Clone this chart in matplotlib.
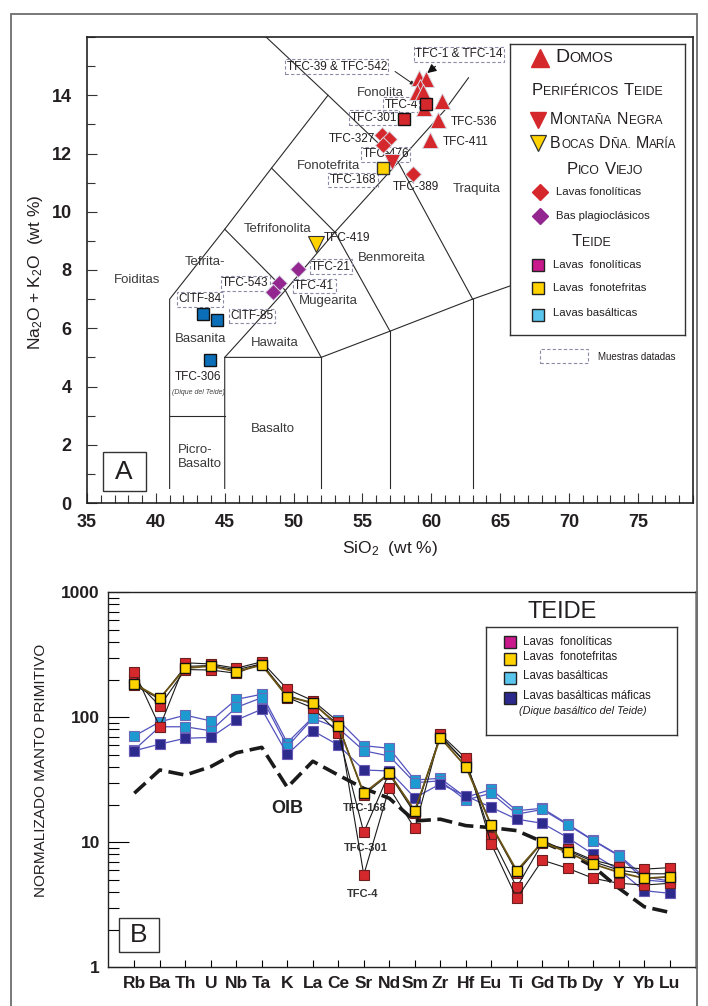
import numpy as np
import matplotlib.pyplot as plt
from matplotlib.patches import Rectangle
from matplotlib.ticker import MultipleLocator, LogLocator, NullFormatter
from matplotlib.offsetbox import TextArea, HPacker, AnnotationBbox

plt.rcParams['font.family'] = ['Liberation Sans', 'DejaVu Sans']
plt.rcParams['mathtext.default'] = 'regular'

INK = '#231f20'
RED = '#d5282d'
YEL = '#ffd200'
PUR = '#93278f'
BLU = '#0a6fb8'
MAG = '#c8188c'
LBL = '#5ac6ee'
CYN = '#1d9bd0'
NAV = '#2c2a8c'

# ---------------- Panel A: TAS ----------------
tas_lines = [
    [(41, 0.5), (41, 7), (45, 9.4), (48.4, 11.5), (52.5, 14)],
    [(48, 16), (52.5, 14), (57.6, 11.7), (63, 7)],
    [(45, 0.5), (45, 5), (49.4, 7.3), (53, 9.3), (57.6, 11.7), (61, 13.5), (62.7, 14.6)],
    [(41, 3), (45, 3)],
    [(45, 5), (52, 5), (57, 5.9), (63, 7), (69, 8)],
    [(52, 0.5), (52, 5)],
    [(57, 0.5), (57, 5.9)],
    [(63, 0.5), (63, 7)],
    [(45, 9.4), (49.4, 7.3), (52, 5)],
    [(48.4, 11.5), (53, 9.3), (57, 5.9)],
]
fields = ['Foiditas', 'Tefrita-', 'Basanita', 'Picro-\nBasalto', 'Basalto', 'Hawaita',
          'Mugearita', 'Benmoreita', 'Tefrifonolita', 'Fonotefrita', 'Fonolita', 'Traquita']
field_xy = [(38.6, 7.66), (43.55, 8.27), (43.25, 5.62), (41.6, 1.58), (48.5, 2.53), (48.65, 5.48),
            (52.5, 6.95), (57.1, 8.42), (48.8, 9.41), (52.55, 11.57), (56.3, 14.08), (63.3, 10.78)]

domos_si = [59.1, 59.6, 59.2, 58.95, 59.4, 59.5, 60.75, 60.45, 59.9]
domos_alk = [14.6, 14.55, 14.3, 14.1, 14.1, 13.55, 13.8, 13.15, 12.45]
mneg_si, mneg_alk = [57.15], [11.7]
bocas_si, bocas_alk = [51.6], [8.9]
pvfon_si = [56.45, 56.95, 56.5, 58.65]
pvfon_alk = [12.65, 12.5, 12.3, 11.3]
pvbas_si = [50.35, 48.95, 48.5]
pvbas_alk = [8.05, 7.55, 7.25]
tdfon_si, tdfon_alk = [59.65, 58.0], [13.7, 13.2]
tdfte_si, tdfte_alk = [56.5], [11.5]
tdbas_si = [43.4, 44.45, 43.9]
tdbas_alk = [6.5, 6.3, 4.9]

labels = ['TFC-39 & TFC-542', 'TFC-1 & TFC-14', 'TFC-4', 'TFC-301', 'TFC-327', 'TFC-476',
          'TFC-168', 'TFC-389', 'TFC-536', 'TFC-411', 'TFC-419', 'TFC-21', 'TFC-543',
          'TFC-41', 'CITF-84', 'CITF-85', 'TFC-306']
label_xy = [(53.13, 14.98), (61.99, 15.41), (57.8, 13.67), (55.84, 13.23), (54.25, 12.5),
            (56.69, 11.97), (54.32, 11.09), (58.86, 10.84), (63.11, 13.07), (62.47, 12.41),
            (53.91, 9.09), (52.71, 8.11), (46.49, 7.54), (51.5, 7.45), (43.23, 6.99),
            (46.98, 6.42), (43.07, 4.34)]
label_dated = [1, 1, 1, 1, 0, 1, 1, 0, 0, 0, 0, 1, 1, 1, 1, 1, 0]

# ---------------- Panel B: spider ----------------
elements = ['Rb', 'Ba', 'Th', 'U', 'Nb', 'Ta', 'K', 'La', 'Ce', 'Sr', 'Nd', 'Sm', 'Zr', 'Hf',
            'Eu', 'Ti', 'Gd', 'Tb', 'Dy', 'Y', 'Yb', 'Lu']
oib = [24.7, 37.9, 34.5, 40.3, 52, 57.5, 27.5, 44.5, 34.5, 27, 22.5, 14.8, 15.3, 13.6, 13.1,
       12.4, 10.1, 8.2, 6.4, 4.3, 3.05, 2.75]
fon_tfc4 = [231, 84, 273, 267, 247, 278, 168, 136, 92, 5.5, 27.3, 12.9, 73.5, 47, 9.7, 3.56,
            7.2, 6.2, 5.15, 4.7, 4.55, 4.7]
fon_tfc301 = [201, 123, 241, 239, 225, 270, 144, 119, 75, 12.0, 36, 17.5, 70, 44, 11.1, 4.36,
              9.8, 8.8, 7.2, 6.4, 6.1, 6.27]
fon_3 = [180, 140, 255, 260, 240, 268, 150, 128, 88, 24, 35, 17, 72, 43, 13.5, 5.7, 10, 8.6,
         7.0, 6.0, 5.6, 5.6]
fte_tfc168 = [185, 142, 247, 257, 232, 262, 146, 131, 85, 24.7, 35.6, 17.9, 68.7, 40.3, 13.7,
              5.93, 10.05, 8.3, 6.7, 5.75, 5.15, 5.3]
bas_1 = [70.8, 92, 104, 93.5, 139, 153, 62.6, 100, 95, 59.3, 56.5, 31.5, 32.5, 22.9, 26.5, 17.9,
         18.7, 14, 10.4, 7.9, 5.3, 4.9]
bas_2 = [55, 84, 84, 78, 120, 143.6, 58.2, 98, 82, 54, 49, 30, 31, 21.8, 24.7, 16.8, 18.3, 13.8,
         10.3, 7.8, 5.0, 4.8]
maf_tfc306 = [54, 61, 68, 69, 95, 116, 50.6, 78, 60, 37.9, 37.2, 22.7, 29.3, 23.5, 19.05, 15.3,
              14.2, 10.9, 8.0, 6.0, 4.1, 3.91]

W, H = 708, 1006
fig = plt.figure(figsize=(W / 100, H / 100), dpi=100)


def fax(x0, y0, x1, y1):
    return fig.add_axes([x0 / W, 1 - y1 / H, (x1 - x0) / W, (y1 - y0) / H])


def px(x, y):
    return (x / W, 1 - y / H)


def small_caps(ax, x, y, txt, size, align=(0, 0.5)):
    words = []
    for w in txt.split():
        a = TextArea(w[0].upper(), textprops=dict(fontsize=size, color=INK))
        b = TextArea(w[1:].upper(), textprops=dict(fontsize=size * 0.74, color=INK))
        words.append(HPacker(children=[a, b], align='baseline', pad=0, sep=0.3))
    box = HPacker(children=words, align='baseline', pad=0, sep=size * 0.3)
    ab = AnnotationBbox(box, (x, y), xycoords='data', box_alignment=align,
                        frameon=False, pad=0, annotation_clip=False)
    ax.add_artist(ab)


# outer frame
fig.add_artist(Rectangle(px(11, 1010), 686 / W, 996 / H, transform=fig.transFigure,
                         fill=False, ec='#6d6d6d', lw=1.3))

axA = fax(87, 37, 693, 503)
axA.set_xlim(35, 79)
axA.set_ylim(0, 16)
for seg in tas_lines:
    xs, ys = zip(*seg)
    axA.plot(xs, ys, color='#2a2a2a', lw=0.8, zorder=1)
for name, (fx, fy) in zip(fields, field_xy):
    ha = 'left' if name.startswith('Picro') else 'center'
    axA.text(fx, fy, name, fontsize=9.5, color='#3a3a3a', ha=ha, va='center',
             linespacing=1.25)

dash_box = dict(boxstyle='square,pad=0.12', fc='none', ec='#8c8ca6', lw=0.8,
                ls=(0, (3, 2)))
for name, (lx, ly), d in zip(labels, label_xy, label_dated):
    axA.text(lx, ly, name, fontsize=8.5, color=INK, ha='center', va='center', zorder=2,
             bbox=dash_box if d else None)
axA.text(43.07, 3.78, '(Dique del Teide)', fontsize=5, style='italic', color='#444',
         ha='center', va='center')

axA.annotate('', xy=(58.95, 14.3), xytext=(57.2, 14.87),
             arrowprops=dict(arrowstyle='-|>', lw=0.7, color='#222', mutation_scale=6))
axA.annotate('', xy=(59.55, 14.7), xytext=(60.45, 15.05),
             arrowprops=dict(arrowstyle='-|>', lw=0.9, color='#111', mutation_scale=13))

axA.plot(domos_si, domos_alk, '^', ms=12, mfc=RED, mec='#d9d9e3', mew=0.7, ls='none', zorder=4)
axA.plot(mneg_si, mneg_alk, 'v', ms=12, mfc=RED, mec='#d9d9e3', mew=0.7, ls='none', zorder=4)
axA.plot(bocas_si, bocas_alk, 'v', ms=12, mfc=YEL, mec='#333', mew=0.8, ls='none', zorder=4)
axA.plot(pvfon_si, pvfon_alk, 'D', ms=8.5, mfc=RED, mec='#d9d9e3', mew=0.7, ls='none', zorder=4)
axA.plot(pvbas_si, pvbas_alk, 'D', ms=8.5, mfc=PUR, mec='#d9d9e3', mew=0.7, ls='none', zorder=4)
axA.plot(tdfon_si, tdfon_alk, 's', ms=9, mfc=RED, mec='#111', mew=1.0, ls='none', zorder=5)
axA.plot(tdfte_si, tdfte_alk, 's', ms=9, mfc=YEL, mec='#333', mew=1.0, ls='none', zorder=5)
axA.plot(tdbas_si, tdbas_alk, 's', ms=9, mfc=BLU, mec='#111', mew=1.0, ls='none', zorder=5)

axA.set_xticks(range(35, 80, 5))
axA.set_yticks(range(0, 15, 2))
axA.xaxis.set_minor_locator(MultipleLocator(1))
axA.yaxis.set_minor_locator(MultipleLocator(1))
axA.tick_params(which='both', direction='in', width=0.8, color='#333')
axA.tick_params(which='major', length=7, labelsize=13, labelcolor=INK)
axA.tick_params(which='minor', length=6)
axA.tick_params(axis='x', pad=8)
axA.tick_params(axis='y', pad=11)
for lab in axA.get_xticklabels() + axA.get_yticklabels():
    lab.set_fontweight('bold')
for s in axA.spines.values():
    s.set_linewidth(1.2)
    s.set_color('#222')
fig.text(*px(36, 272), 'Na$_2$O + K$_2$O  (wt %)', rotation=90, fontsize=12.5, color=INK,
         ha='center', va='center')
fig.text(*px(390, 548), 'SiO$_2$  (wt %)', fontsize=12.5, color=INK, ha='center', va='center')

fig.add_artist(Rectangle(px(102.7, 490.7), 43 / W, 38.4 / H, transform=fig.transFigure,
                         fill=False, ec='#333', lw=1.0))
fig.text(*px(124.2, 472), 'A', fontsize=19, color=INK, ha='center', va='center')

# legend A
lgA = fax(510, 44, 685, 335)
lgA.set_xlim(0, 175)
lgA.set_ylim(291, 0)
lgA.set_xticks([])
lgA.set_yticks([])
for s in lgA.spines.values():
    s.set_linewidth(1.0)
    s.set_color('#333')
lgA.plot(30, 14, '^', ms=13, mfc=RED, mec=RED)
small_caps(lgA, 45, 14, 'Domos', 14)
small_caps(lgA, 87, 46.7, 'Periféricos Teide', 12, align=(0.5, 0.5))
lgA.plot(28.3, 76, 'v', ms=12, mfc=RED, mec=RED)
small_caps(lgA, 40, 76, 'Montaña Negra', 11.5)
lgA.plot(28.3, 99.3, 'v', ms=12, mfc=YEL, mec='#333', mew=0.9)
small_caps(lgA, 40, 99.3, 'Bocas Dña. María', 11.5)
small_caps(lgA, 95, 126, 'Pico Viejo', 12, align=(0.5, 0.5))
lgA.plot(30, 147.7, 'D', ms=8, mfc=RED, mec=RED)
lgA.text(46, 147.7, 'Lavas fonolíticas', fontsize=8.2, color=INK, va='center')
lgA.plot(30, 172, 'D', ms=8, mfc=PUR, mec=PUR)
lgA.text(46, 172, 'Bas plagioclásicos', fontsize=8.2, color=INK, va='center')
small_caps(lgA, 81.5, 197.7, 'Teide', 12, align=(0.5, 0.5))
lgA.plot(27.7, 221, 's', ms=8, mfc=MAG, mec='#222')
lgA.text(43.3, 221, 'Lavas  fonolíticas', fontsize=8.2, color=INK, va='center')
lgA.plot(27.7, 244.3, 's', ms=8, mfc=YEL, mec='#222')
lgA.text(43.3, 244.3, 'Lavas  fonotefritas', fontsize=8.2, color=INK, va='center')
lgA.plot(28.3, 271, 's', ms=8, mfc=LBL, mec='#222')
lgA.text(43.3, 269.5, 'Lavas basálticas', fontsize=8.2, color=INK, va='center')

fig.add_artist(Rectangle(px(540, 363.3), 47.7 / W, 14.3 / H, transform=fig.transFigure,
                         fill=False, ec='#8c8ca6', lw=0.8, ls=(0, (3, 2))))
fig.text(*px(598, 356.5), 'Muestras datadas', fontsize=7, color=INK, va='center')

# ---------------- Panel B ----------------
axB = fax(108.3, 592.3, 696, 967.3)
axB.set_yscale('log')
axB.set_ylim(1, 1000)
axB.set_xlim(-1.02, 22.03)
xe = np.arange(len(elements))

axB.plot(xe, oib, color='#1a1a1a', lw=2.6, dashes=(4.2, 1.8), zorder=2)
sq = dict(marker='s', ms=7.5)
for ser in [bas_1, bas_2]:
    axB.plot(xe, ser, color='#5252bd', lw=0.9, mfc=CYN, mec='#6a6ab8', mew=0.8, zorder=3, **sq)
axB.plot(xe, maf_tfc306, color='#5252bd', lw=0.9, mfc=NAV, mec='#6a5ab8', mew=0.8, zorder=3, **sq)
for ser in [fon_3, fon_tfc301, fon_tfc4]:
    axB.plot(xe, ser, color='#1a1a1a', lw=0.8, mfc=RED, mec='#6b1f1f', mew=0.8, zorder=4, **sq)
axB.plot(xe, fte_tfc168, color='#6b5415', lw=1.3, mfc=YEL, mec='#111', mew=1.0, zorder=5, **sq)

axB.text(6.0, 18.7, 'OIB', fontsize=13, fontweight='bold', color='#222', ha='center', va='center')
axB.text(9.05, 18.7, 'TFC-168', fontsize=8, fontweight='bold', color='#333', ha='center', va='center')
axB.text(9.09, 8.95, 'TFC-301', fontsize=8, fontweight='bold', color='#333', ha='center', va='center')
axB.text(8.95, 3.86, 'TFC-4', fontsize=8, fontweight='bold', color='#333', ha='center', va='center')

axB.set_xticks(xe, elements)
axB.set_yticks([1, 10, 100, 1000], ['1', '10', '100', '1000'])
axB.yaxis.set_minor_locator(LogLocator(base=10, subs=np.arange(2, 10)))
axB.yaxis.set_minor_formatter(NullFormatter())
axB.tick_params(axis='x', direction='in', length=5, width=0.8, pad=6, labelsize=12.5,
                labelcolor=INK)
axB.tick_params(axis='y', which='major', direction='in', length=15, width=0.8, pad=6,
                labelsize=12.5, labelcolor=INK)
axB.tick_params(axis='y', which='minor', direction='in', length=8, width=0.8)
for lab in axB.get_xticklabels() + axB.get_yticklabels():
    lab.set_fontweight('bold')
for k, s in axB.spines.items():
    s.set_linewidth(1.0)
    s.set_color('#222')
axB.spines['right'].set_color('#8c8c8c')
axB.spines['right'].set_linewidth(2)

fig.text(*px(41.5, 770.5), 'NORMALIZADO MANTO PRIMITIVO', rotation=90, fontsize=11,
         color=INK, ha='center', va='center')
fig.text(*px(561.7, 612), 'TEIDE', fontsize=17, color=INK, ha='center', va='center')

fig.add_artist(Rectangle(px(119, 951.7), 39.7 / W, 33.4 / H, transform=fig.transFigure,
                         fill=False, ec='#333', lw=1.0))
fig.text(*px(138.8, 935.5), 'B', fontsize=19, color=INK, ha='center', va='center')

lgB = fax(485.7, 626.7, 677.3, 735)
lgB.set_xlim(0, 191.6)
lgB.set_ylim(108.3, 0)
lgB.set_xticks([])
lgB.set_yticks([])
for s in lgB.spines.values():
    s.set_linewidth(1.0)
    s.set_color('#333')
lgB.plot(24.3, 15, 's', ms=8, mfc=MAG, mec='#222')
lgB.text(37, 15, 'Lavas  fonolíticas', fontsize=8.3, color=INK, va='center')
lgB.plot(24.3, 32.3, 's', ms=8, mfc=YEL, mec='#222')
lgB.text(37, 30.6, 'Lavas  fonotefritas', fontsize=8.3, color=INK, va='center')
lgB.plot(24.3, 51, 's', ms=8, mfc=LBL, mec='#222')
lgB.text(37, 49.3, 'Lavas basálticas', fontsize=8.3, color=INK, va='center')
lgB.plot(24.3, 71, 's', ms=8, mfc=NAV, mec='#222')
lgB.text(37, 69.3, 'Lavas basálticas máficas', fontsize=8.3, color=INK, va='center')
lgB.text(33.3, 84.3, '(Dique basáltico del Teide)', fontsize=7.8, style='italic', color=INK,
         va='center')

fig.savefig('out.png', dpi=100)
